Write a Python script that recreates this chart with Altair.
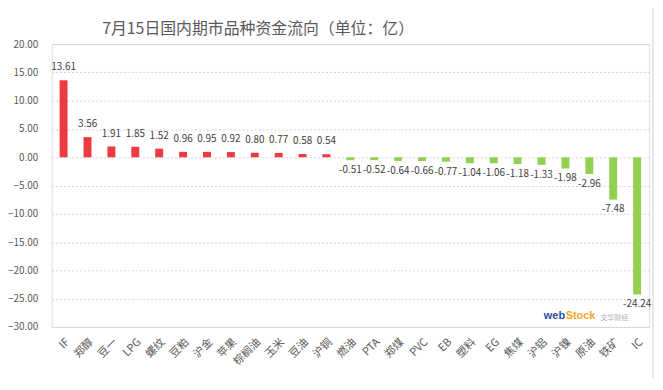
import altair as alt
import pandas as pd

categories = ["IF", "郑醇", "豆一", "LPG", "螺纹", "豆粕", "沪金", "苹果", "棕榈油", "玉米",
              "豆油", "沪铜", "燃油", "PTA", "郑煤", "PVC", "EB", "塑料", "EG", "焦煤",
              "沪铝", "沪镍", "原油", "铁矿", "IC"]
values = [13.61, 3.56, 1.91, 1.85, 1.52, 0.96, 0.95, 0.92, 0.80, 0.77,
          0.58, 0.54, -0.51, -0.52, -0.64, -0.66, -0.77, -1.04, -1.06, -1.18,
          -1.33, -1.98, -2.96, -7.48, -24.24]
y_ticks = [20, 15, 10, 5, 0, -5, -10, -15, -20, -25, -30]
title_text = "7月15日国内期市品种资金流向（单位：亿）"

RED = "#EC3A40"
GREEN = "#92D050"
FONT = "Noto Sans CJK SC"
TXT = "#595959"

df = pd.DataFrame({"cat": categories, "val": values})
df["label"] = [f"{v:.2f}" for v in values]

W, H = 602, 285

x_enc = alt.X("cat:N", sort=None, title=None,
              scale=alt.Scale(paddingInner=0, paddingOuter=0),
              axis=alt.Axis(labelAngle=-45, labelFontSize=11, labelFont=FONT,
                            labelColor=TXT, domain=False, ticks=False,
                            labelPadding=9, grid=False, labelOverlap=False))
y_enc = alt.Y("val:Q", title=None,
              scale=alt.Scale(domain=[-30, 20], nice=False),
              axis=alt.Axis(values=y_ticks, format=".2f", labelFontSize=10,
                            labelFont=FONT, labelColor=TXT, domain=False,
                            ticks=False, labelPadding=14, grid=True,
                            labelOverlap=False,
                            gridColor="#d4d4d4", gridDash=[2, 2], gridWidth=1))

base = alt.Chart(df).encode(x=x_enc, y=y_enc)

bars = base.mark_bar(size=8).encode(
    color=alt.condition(alt.datum.val > 0, alt.value(RED), alt.value(GREEN)),
)

pos = base.transform_filter("datum.val > 0").mark_text(
    baseline="middle", dy=-13, fontSize=10, font=FONT, color="#404040"
).encode(text="label:N")

neg = base.transform_filter("datum.val < 0").mark_text(
    baseline="middle", dy=10, fontSize=10, font=FONT, color="#404040"
).encode(text="label:N")

one = alt.Chart(pd.DataFrame({"k": [0]}))
frame = one.mark_rect(fillOpacity=0, stroke="#d0d0d0", strokeWidth=1).encode(
    x=alt.value(-47), x2=alt.value(W + 4), y=alt.value(-38), y2=alt.value(342)
)

title = one.mark_text(text=title_text, font=FONT, fontSize=16, color=TXT,
                      align="center", baseline="middle"
                      ).encode(x=alt.value(208), y=alt.value(-15))

wm1 = one.mark_text(text="web", font="Liberation Sans", fontWeight="bold",
                    fontSize=11, color="#2a4f9c", align="left", baseline="middle"
                    ).encode(x=alt.value(496), y=alt.value(274))
wm2 = one.mark_text(text="Stock", font="Liberation Sans", fontWeight="bold",
                    fontSize=11, color="#f5a623", align="left", baseline="middle"
                    ).encode(x=alt.value(518), y=alt.value(274))
wm3 = one.mark_text(text="文华财经", font=FONT, fontSize=7, color="#b0b0b0",
                    align="left", baseline="middle"
                    ).encode(x=alt.value(553), y=alt.value(276))

chart = alt.layer(frame, title, bars, pos, neg, wm1, wm2, wm3).properties(
    width=W, height=H,
    padding={"left": 44, "top": 35, "right": 6, "bottom": 50},
    autosize=alt.AutoSizeParams(type="none"),
).configure_view(strokeWidth=0).configure(background="white")

chart.save("out.html", embed_options={"renderer": "svg", "actions": False})
